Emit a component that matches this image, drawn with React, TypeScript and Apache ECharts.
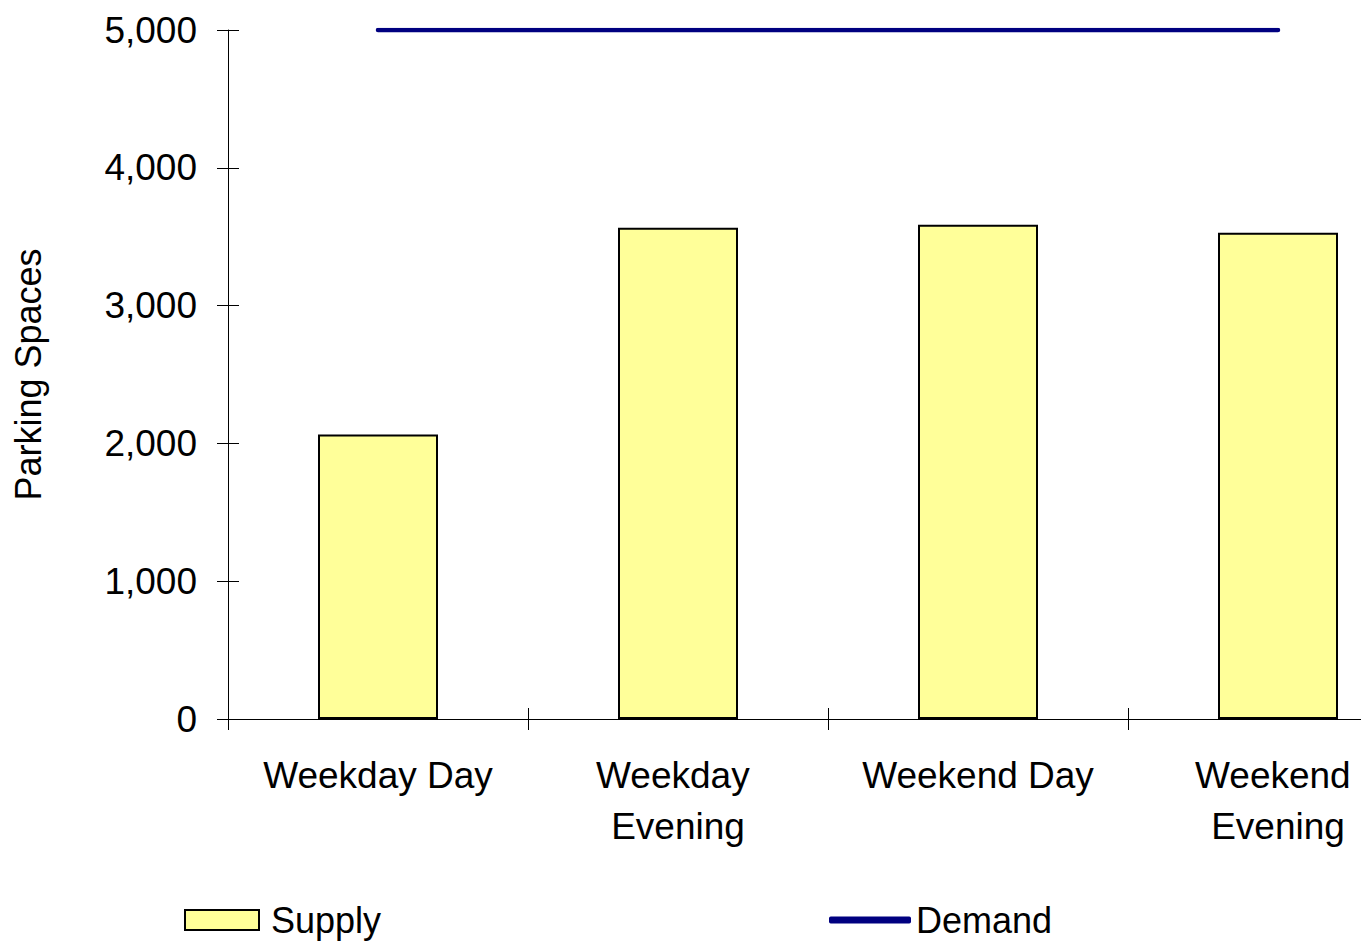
import React, { useEffect, useRef } from "react";
import * as echarts from "echarts";

const categories = ["Weekday Day", "Weekday Evening", "Weekend Day", "Weekend Evening"];
const supply = [2065, 3565, 3587, 3529];
const demand = [5000, 5000, 5000, 5000];
const yTicks = { min: 0, max: 5000, interval: 1000 };

const FONT = "'Liberation Sans', Arial, sans-serif";

export default function App() {
  const ref = useRef<HTMLDivElement>(null);
  useEffect(() => {
    if (!ref.current) return;
    const chart = echarts.init(ref.current, null, { renderer: "svg" });
    const yBase = {
      type: "value" as const,
      min: yTicks.min,
      max: yTicks.max,
      interval: yTicks.interval,
      position: "left" as const,
      offset: 0,
      splitLine: { show: false },
    };
    chart.setOption({
      animation: false,
      backgroundColor: "#ffffff",
      textStyle: { fontFamily: FONT, color: "#000" },
      grid: { left: 228, top: 30, width: 1200, bottom: 222, containLabel: false },
      legend: [
        {
          data: [{ name: "Supply", icon: "rect" }],
          left: 179,
          top: 897,
          itemWidth: 74,
          itemHeight: 20,
          itemGap: 10,
          itemStyle: { borderColor: "#000", borderWidth: 2 },
          textStyle: { fontSize: 36, fontFamily: FONT, color: "#000", padding: [0, 0, 0, 7] },
        },
        {
          data: [{ name: "Demand", icon: "roundRect" }],
          left: 824,
          top: 897,
          itemWidth: 82,
          itemHeight: 7,
          itemGap: 4,
          textStyle: { fontSize: 36, fontFamily: FONT, color: "#000", padding: [0, 0, 0, 0] },
        },
      ],
      xAxis: [
        {
          type: "category",
          data: categories,
          position: "bottom",
          offset: 0,
          axisLine: { show: true, lineStyle: { color: "#000", width: 1 } },
          axisTick: { show: true, inside: false, length: 11, lineStyle: { color: "#000" } },
          axisLabel: {
            fontSize: 37,
            fontFamily: FONT,
            color: "#000",
            margin: 31,
            lineHeight: 51,
            width: 280,
            overflow: "break",
            interval: 0,
          },
          splitLine: { show: false },
        },
        {
          type: "category",
          data: categories,
          position: "bottom",
          offset: 0,
          axisLine: { show: false },
          axisTick: { show: true, inside: true, length: 11, lineStyle: { color: "#000" } },
          axisLabel: { show: false },
          splitLine: { show: false },
        },
      ],
      yAxis: [
        {
          ...yBase,
          name: "Parking Spaces",
          nameLocation: "middle",
          nameRotate: 90,
          nameGap: 182,
          nameTextStyle: { fontSize: 36, fontFamily: FONT, color: "#000" },
          axisLine: { show: true, lineStyle: { color: "#000", width: 1 } },
          axisTick: { show: true, inside: false, length: 11, lineStyle: { color: "#000" } },
          axisLabel: {
            fontSize: 37,
            fontFamily: FONT,
            color: "#000",
            margin: 31,
            padding: [0, 0, 8, 0],
            formatter: (v: number) => v.toLocaleString("en-US"),
          },
        },
        {
          ...yBase,
          axisLine: { show: false },
          axisTick: { show: true, inside: true, length: 11, lineStyle: { color: "#000" } },
          axisLabel: { show: false },
        },
      ],
      series: [
        {
          name: "Supply",
          type: "bar",
          data: supply,
          xAxisIndex: 0,
          yAxisIndex: 0,
          barWidth: "40%",
          itemStyle: { color: "#FFFF99", borderColor: "#000", borderWidth: 2 },
        },
        {
          name: "Demand",
          type: "line",
          data: demand,
          xAxisIndex: 0,
          yAxisIndex: 0,
          symbol: "none",
          lineStyle: { color: "#000080", width: 4.5, cap: "round" },
          itemStyle: { color: "#000080" },
        },
      ],
    });
    return () => chart.dispose();
  }, []);
  return (
    <div style={{ position: "fixed", left: 0, top: 0, width: 1361, height: 941, overflow: "hidden", background: "#fff" }}>
      <div ref={ref} style={{ width: 1428, height: 941 }} />
    </div>
  );
}
